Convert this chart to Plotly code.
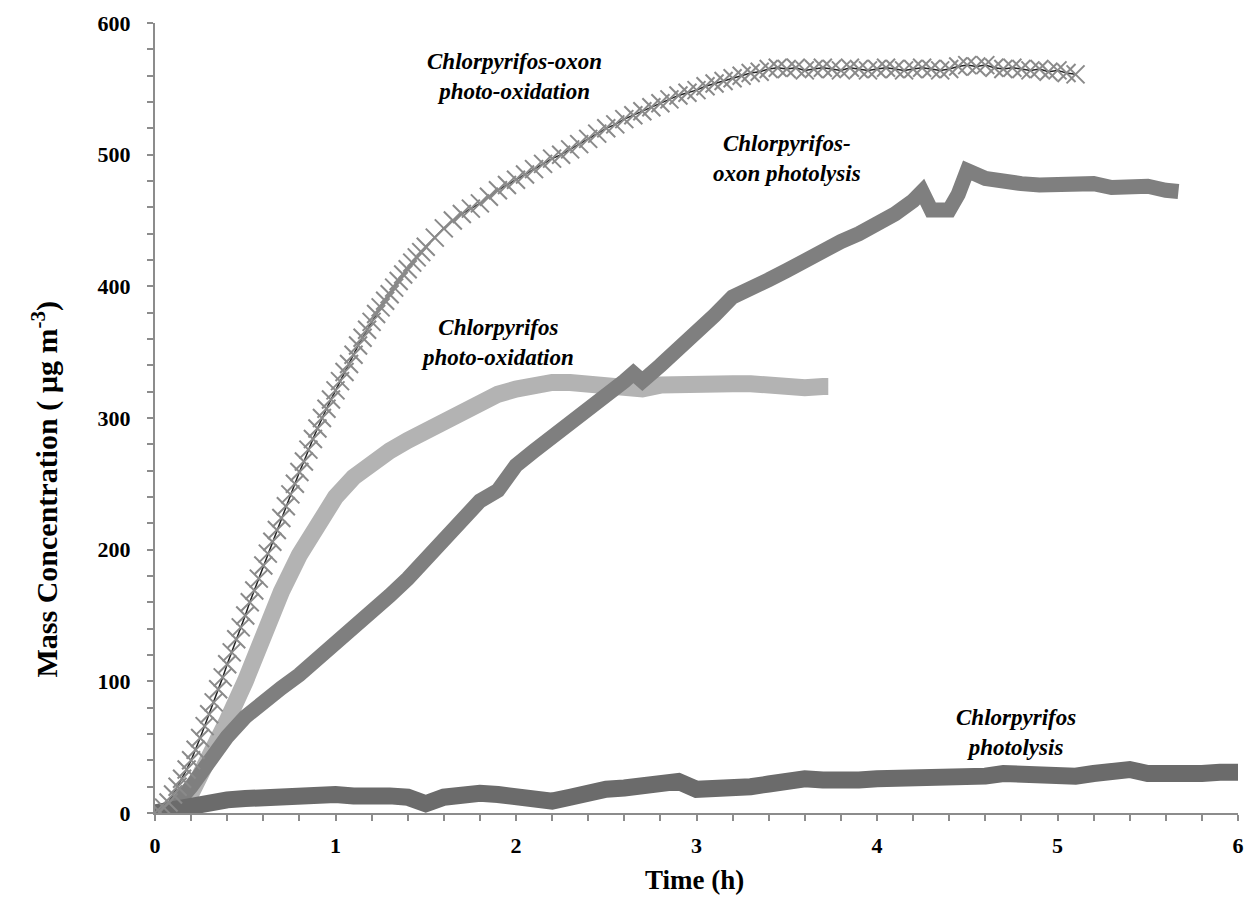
import plotly.graph_objects as go

# Chlorpyrifos-oxon photo-oxidation (x markers)
t_oxon_ox = [0, 0.025, 0.05, 0.075, 0.1, 0.125, 0.15, 0.175, 0.2, 0.225, 0.25, 0.275, 0.3, 0.325, 0.35, 0.375,
             0.4, 0.425, 0.45, 0.475, 0.5, 0.525, 0.55, 0.575, 0.6, 0.625, 0.65, 0.675, 0.7, 0.725, 0.75, 0.775,
             0.8, 0.825, 0.85, 0.875, 0.9, 0.925, 0.95, 0.975, 1.0, 1.025, 1.05, 1.075, 1.1, 1.125, 1.15, 1.175,
             1.2, 1.225, 1.25, 1.275, 1.3, 1.325, 1.35, 1.375, 1.4, 1.425, 1.45, 1.475, 1.5,
             1.55, 1.6, 1.65, 1.7, 1.75, 1.8, 1.85, 1.9, 1.95, 2.0, 2.05, 2.1, 2.15, 2.2, 2.25, 2.3, 2.35, 2.4,
             2.45, 2.5, 2.55, 2.6, 2.65, 2.7, 2.75, 2.8, 2.85, 2.9, 2.95, 3.0, 3.05, 3.1, 3.15, 3.2, 3.25, 3.3,
             3.35, 3.4, 3.45, 3.5, 3.55, 3.6, 3.65, 3.7, 3.75, 3.8, 3.85, 3.9, 3.95, 4.0, 4.05, 4.1, 4.15, 4.2,
             4.25, 4.3, 4.35, 4.4, 4.45, 4.5, 4.55, 4.6, 4.65, 4.7, 4.75, 4.8, 4.85, 4.9, 4.95, 5.0, 5.05, 5.1]
v_oxon_ox = [0, 1, 4, 8, 14, 20, 26, 33, 40, 48, 57, 66, 75, 84, 94, 103,
             113, 122, 132, 141, 150, 160, 169, 178, 188, 197, 206, 215, 224, 233, 242, 250,
             259, 267, 276, 284, 292, 300, 307, 314, 321, 328, 335, 341, 348, 355, 361, 367,
             373, 379, 384, 389, 394, 399, 404, 409, 413, 418, 422, 426, 430,
             437, 444, 450, 455, 459, 463, 468, 473, 477, 481, 485, 489, 493, 497, 500, 504, 508, 512,
             516, 520, 523, 527, 530, 533, 536, 539, 542, 545, 547, 549, 552, 554, 556, 558, 560, 562,
             563, 565, 566, 565, 566, 564, 565, 566, 565, 564, 566, 565, 564, 565, 566, 565, 564, 565,
             566, 565, 564, 565, 567, 568, 567, 568, 566, 565, 566, 565, 564, 565, 563, 564, 562, 561]

# Chlorpyrifos-oxon photolysis
t_oxon_pl = [0.0, 0.1, 0.2, 0.3, 0.4, 0.5, 0.6, 0.7, 0.8, 0.9, 1.0, 1.1, 1.2, 1.3, 1.4, 1.5, 1.6, 1.7, 1.8, 1.9,
             2.0, 2.1, 2.2, 2.3, 2.4, 2.5, 2.6, 2.65, 2.7, 2.8, 2.9, 3.0, 3.1, 3.2, 3.3, 3.4, 3.5, 3.6, 3.7, 3.8,
             3.9, 4.0, 4.1, 4.2, 4.25, 4.3, 4.4, 4.45, 4.5, 4.6, 4.7, 4.8, 4.9, 5.0, 5.1, 5.2, 5.3, 5.4, 5.5, 5.6, 5.67]
v_oxon_pl = [0, 4, 20, 40, 58, 73, 85, 95, 105, 117, 128, 138, 150, 165, 178, 192, 208, 222, 237, 245,
             264, 275, 285, 297, 308, 318, 328, 334, 328, 340, 352, 365, 378, 392, 400, 405, 412, 420, 428, 434,
             440, 446, 455, 465, 472, 458, 458, 470, 488, 482, 479, 478, 477, 478, 477, 478, 475, 475, 476, 473, 472]

# Chlorpyrifos photo-oxidation
t_cpf_ox = [0.0, 0.1, 0.2, 0.3, 0.4, 0.5, 0.6, 0.7, 0.8, 0.9, 1.0, 1.1, 1.2, 1.3, 1.4, 1.5, 1.6, 1.7, 1.8, 1.9,
            2.0, 2.1, 2.2, 2.3, 2.4, 2.5, 2.6, 2.7, 2.8, 2.9, 3.0, 3.1, 3.2, 3.3, 3.4, 3.5, 3.6, 3.7, 3.73]
v_cpf_ox = [0, 2, 15, 40, 70, 100, 135, 168, 196, 220, 240, 255, 267, 275, 283, 290, 297, 305, 312, 318,
            322, 326, 327, 327, 326, 325, 323, 322, 325, 326, 327, 327, 326, 326, 324, 323, 323, 324, 324]

# Chlorpyrifos photolysis
t_cpf_pl = [round(i * 0.1, 1) for i in range(61)]
v_cpf_pl = [0, 3, 7, 9, 10, 11, 12, 13, 14, 15, 14, 13, 14, 13, 12, 7, 12, 14, 15, 14,
            12, 13, 9, 12, 16, 18, 19, 20, 21, 24, 18, 18, 19, 20, 22, 25, 26, 25, 24, 25,
            26, 26, 27, 26, 28, 27, 28, 30, 29, 27, 26, 28, 30, 31, 33, 30, 29, 28, 30, 31, 31]

x_ticks = [0, 1, 2, 3, 4, 5, 6]
y_ticks = [0, 100, 200, 300, 400, 500, 600]

SERIF = "Liberation Serif"

fig = go.Figure()
fig.add_trace(go.Scatter(x=t_cpf_ox, y=v_cpf_ox, mode="lines",
                         line=dict(color="#b3b3b3", width=17), showlegend=False))
fig.add_trace(go.Scatter(x=t_oxon_pl, y=v_oxon_pl, mode="lines",
                         line=dict(color="#7f7f7f", width=15), showlegend=False))
fig.add_trace(go.Scatter(x=t_cpf_pl, y=v_cpf_pl, mode="lines",
                         line=dict(color="#6b6b6b", width=17), showlegend=False))
fig.add_trace(go.Scatter(x=t_oxon_ox, y=v_oxon_ox, mode="lines+markers",
                         line=dict(color="#222222", width=1.5),
                         marker=dict(symbol="x-thin", size=18, line=dict(color="#8a8a8a", width=2)),
                         showlegend=False))

labels = [
    (1.99, 559, "Chlorpyrifos-oxon<br>photo-oxidation"),
    (3.5, 497, "Chlorpyrifos-<br>oxon photolysis"),
    (1.9, 357, "Chlorpyrifos<br>photo-oxidation"),
    (4.77, 61, "Chlorpyrifos<br>photolysis"),
]
for x, y, txt in labels:
    fig.add_annotation(x=x, y=y, text="<b><i>" + txt + "</i></b>", showarrow=False,
                       font=dict(family=SERIF, size=23, color="black"), align="center")

# axis titles
fig.add_annotation(xref="paper", yref="paper", x=0.498, y=-0.085, xanchor="center", yanchor="middle",
                   text="<b>Time (h)</b>", showarrow=False,
                   font=dict(family=SERIF, size=27, color="black"))
fig.add_annotation(xref="paper", yref="paper", x=-0.101, y=0.409, xanchor="center", yanchor="middle",
                   textangle=-90, text="<b>Mass Concentration ( µg m<sup>-3</sup>)</b>", showarrow=False,
                   font=dict(family=SERIF, size=30, color="black"))

axis_line = "#8c8c8c"
fig.update_xaxes(range=[0, 6], tickvals=x_ticks, ticktext=["<b>%d</b>" % v for v in x_ticks],
                 showgrid=False, zeroline=False, showline=True, linecolor=axis_line, linewidth=2,
                 ticks="outside", ticklen=6, tickcolor=axis_line, tickwidth=1.5, ticklabelstandoff=6,
                 minor=dict(dtick=0.2, ticks="outside", ticklen=6, tickcolor=axis_line, tickwidth=1.5, showgrid=False),
                 tickfont=dict(family=SERIF, size=22, color="black"))
fig.update_yaxes(range=[0, 600], tickvals=y_ticks, ticktext=["<b>%d</b>" % v for v in y_ticks],
                 showgrid=False, zeroline=False, showline=True, linecolor=axis_line, linewidth=2,
                 ticks="outside", ticklen=6, tickcolor=axis_line, tickwidth=1.5, ticklabelstandoff=12,
                 minor=dict(dtick=20, ticks="outside", ticklen=6, tickcolor=axis_line, tickwidth=1.5, showgrid=False),
                 tickfont=dict(family=SERIF, size=22, color="black"))

fig.update_layout(width=1254, height=905, plot_bgcolor="white", paper_bgcolor="white",
                  margin=dict(l=155, r=10, t=23, b=92))
fig.write_html("out.html")
